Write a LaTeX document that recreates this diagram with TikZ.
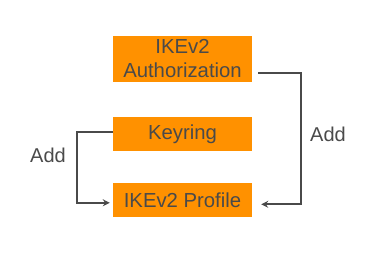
\documentclass[tikz,border=0pt]{standalone}
\usepackage{fontspec}
\setmainfont{Liberation Sans}
\usepackage{tikz}
\usepackage{xcolor}
\usetikzlibrary{arrows.meta,positioning}
\definecolor{cfgorange}{HTML}{FF9100}
\definecolor{cfgtext}{HTML}{4A4A4A}
\definecolor{cfgline}{HTML}{4A4A4A}
\tikzset{
  cfgbox/.style   = {rectangle, draw=none, fill=cfgorange, inner sep=0pt,
                     minimum width=139pt, minimum height=34pt, align=center,
                     font=\fontsize{20.3}{24}\selectfont\color{cfgtext}},
  addarrow/.style = {-{Stealth[length=7pt,width=7pt]}, line width=1.8pt, cfgline},
  addlabel/.style = {font=\fontsize{20}{24}\selectfont\color{cfgtext}},
}
\begin{document}
\begin{tikzpicture}[x=1pt, y=-1pt]
\useasboundingbox (0,0) rectangle (380,280);
\node[cfgbox, minimum height=46pt] (ikeauth) at (182.5,59) {IKEv2\\Authorization};
\node[cfgbox, below=35pt of ikeauth] (keyring) {Keyring};
\node[cfgbox, below=31pt of keyring] (ikeprof) {IKEv2 Profile};

\draw[addarrow] ([xshift=6pt,yshift=-14pt]ikeauth.east) -- ++(43,0)
  |- ([xshift=9pt,yshift=-4.5pt]ikeprof.east);
\draw[addarrow] ([yshift=2pt]keyring.west) -- ++(-36,0)
  |- ([xshift=-3pt,yshift=-3pt]ikeprof.west);

\node[addlabel] (addright) at (328,134) {Add};
\node[addlabel] (addleft)  at (48,155)  {Add};
\end{tikzpicture}
\end{document}
